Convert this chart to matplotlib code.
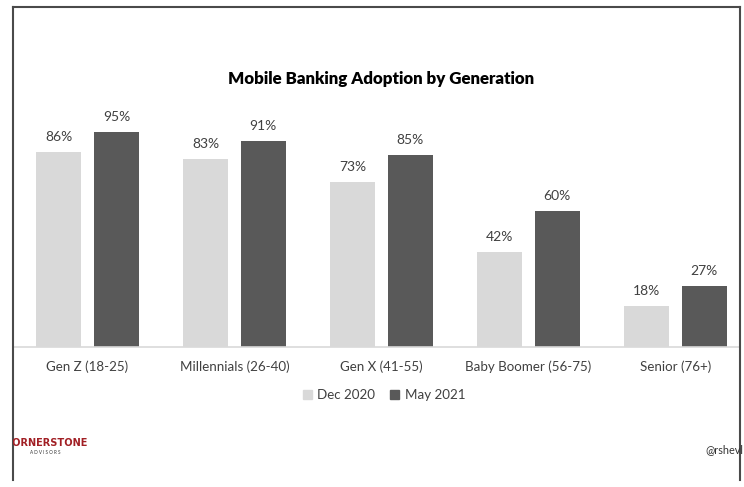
import matplotlib.pyplot as plt
import numpy as np
from matplotlib.lines import Line2D
from matplotlib.patches import Patch
from matplotlib.transforms import Bbox, TransformedBbox

plt.rcParams['font.family'] = ['Lato', 'DejaVu Sans']

# data
generations = ['Gen Z (18-25)', 'Millennials (26-40)', 'Gen X (41-55)',
               'Baby Boomer (56-75)', 'Senior (76+)']
dec_2020 = [86, 83, 73, 42, 18]
may_2021 = [95, 91, 85, 60, 27]
series_names = ['Dec 2020', 'May 2021']

light = '#d9d9d9'
dark = '#595959'

W, H = 744, 487
fig = plt.figure(figsize=(W / 100, H / 100), dpi=100)


def fx(x):
    return x / W


def fy(y):
    return 1 - y / H


# plot area in pixel terms
left, right = 12.7, 739.5
base, top = 347, 60
ax = fig.add_axes([fx(left), fy(base), fx(right - left), (base - top) / H])

x = np.arange(len(generations))
w = 0.306
off = 0.197
b1 = ax.bar(x - off, dec_2020, w, color=light, label=series_names[0])
b2 = ax.bar(x + off, may_2021, w, color=dark, label=series_names[1])

for bars in (b1, b2):
    for r in bars:
        ax.text(r.get_x() + r.get_width() / 2, r.get_height() + 4,
                '%d%%' % r.get_height(), ha='center', va='bottom',
                fontsize=10, color='#404040')

ax.set_xlim(-0.509, 4.438)
ax.set_ylim(0, (base - top) / 2.263)
ax.set_yticks([])
ax.set_xticks(x)
ax.set_xticklabels(generations, fontsize=9.6, color='#404040')
ax.tick_params(axis='x', length=0, pad=10)
for s in ['top', 'left', 'right']:
    ax.spines[s].set_visible(False)
ax.spines['bottom'].set_color(light)
ax.spines['bottom'].set_linewidth(1.2)
ax.patch.set_alpha(0)

fig.text(fx(381), fy(79), 'Mobile Banking Adoption by Generation',
         ha='center', va='center', fontsize=12.2, fontweight='heavy', color='black')

handles = [Patch(color=light), Patch(color=dark)]
fig.legend(handles, series_names, loc='center', bbox_to_anchor=(fx(384), fy(395)),
           ncol=2, frameon=False, fontsize=9.6, handlelength=0.7, handleheight=0.7,
           handletextpad=0.4, columnspacing=1.1, labelcolor='#404040')

# screenshot frame
frame = dict(color='#4a4a4a', lw=1.5, transform=fig.transFigure)
fig.add_artist(Line2D([fx(left), fx(right)], [fy(6.5), fy(6.5)], **frame))
fig.add_artist(Line2D([fx(left), fx(left)], [fy(6.5), fy(480)], **frame))
fig.add_artist(Line2D([fx(right), fx(right)], [fy(6.5), fy(480)], **frame))

clip = TransformedBbox(Bbox([[fx(left), 0], [fx(right), 1]]), fig.transFigure)
t1 = fig.text(fx(5), fy(443), 'CORNERSTONE', ha='left', va='center', fontsize=7.8,
              fontweight='bold', color='#a11f24', family='DejaVu Sans',
              fontstretch='condensed')
t1.set_clip_box(clip)
t1.set_clip_on(True)
fig.text(fx(45), fy(452), 'A D V I S O R S', ha='center', va='center',
         fontsize=3.3, color='#333333')
fig.text(fx(705), fy(450), '@rshevl', ha='left', va='center', fontsize=7.8,
         color='#333333')

fig.savefig('out.png', dpi=100, facecolor='white')
